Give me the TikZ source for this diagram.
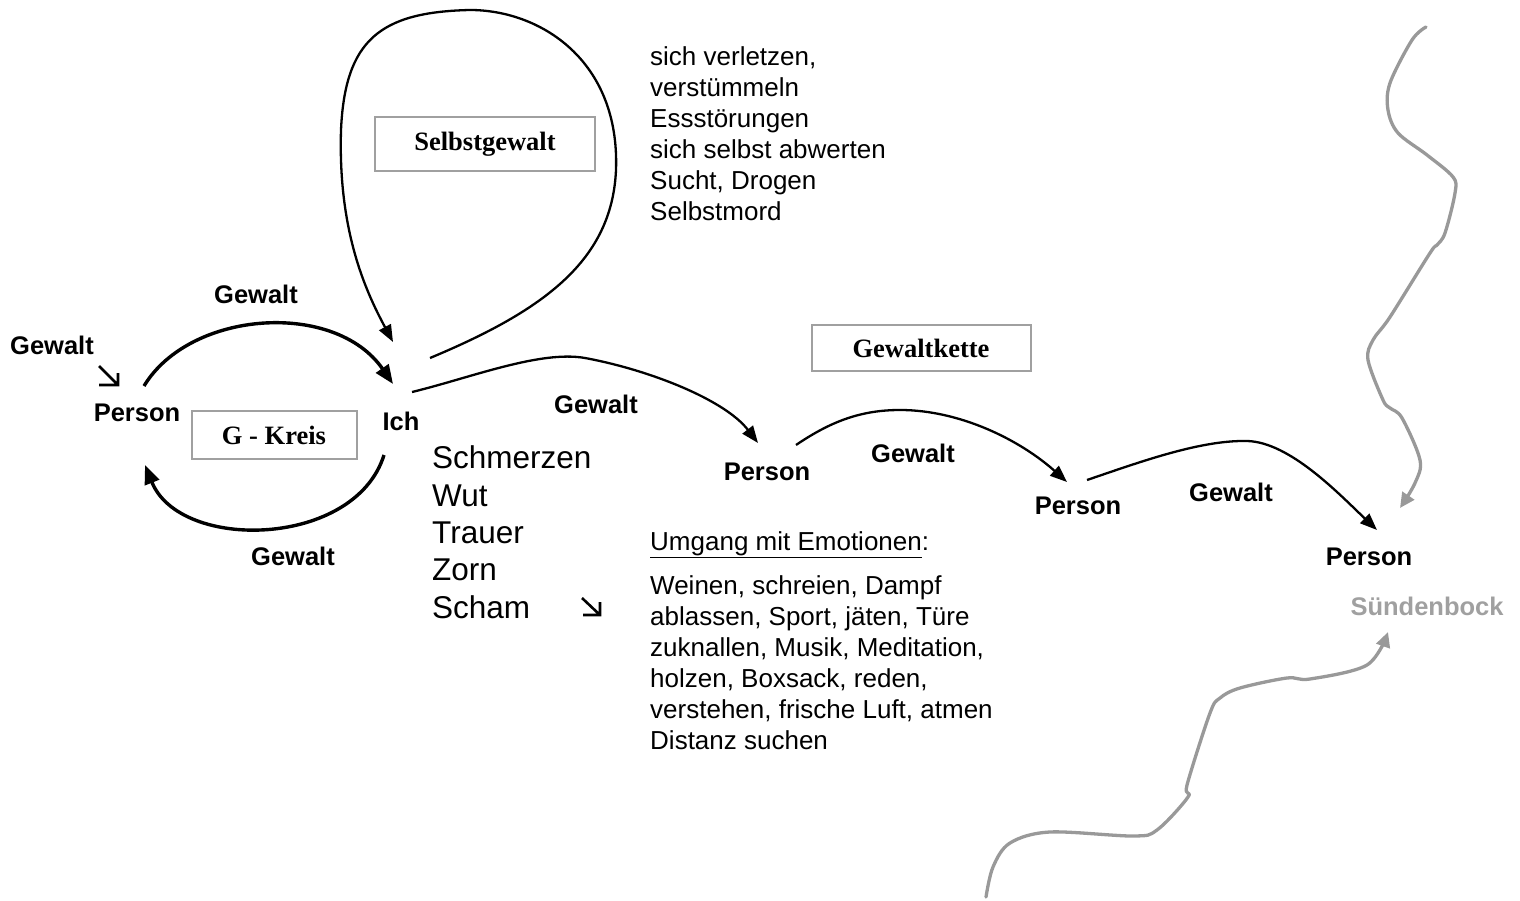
\documentclass[tikz,border=0pt]{standalone}
\usepackage{fontspec}
\setmainfont{Liberation Sans}
\newfontfamily\boxserif{Liberation Serif}
\usetikzlibrary{arrows.meta}
\definecolor{boxgray}{HTML}{A0A0A0}
\definecolor{wiggray}{HTML}{999999}
\tikzset{
  lbl/.style={font=\fontsize{25.5}{30}\selectfont\bfseries, inner sep=0pt, anchor=base},
  titlebox/.style={draw=boxgray, line width=2pt, inner sep=0pt, font=\fontsize{26.5}{30}\boxserif\bfseries},
  thickarrow/.style={line width=3.4pt, -{Triangle[length=19pt,width=15pt]}},
  thinarrow/.style={line width=2.3pt, -{Triangle[length=17pt,width=13pt]}},
  grayarrow/.style={draw=wiggray, line width=3.3pt, line cap=round, line join=round, -{Triangle[length=15pt,width=14pt]}},
  listtext/.style={font=\fontsize{26}{31}\selectfont, align=left, inner sep=0pt, anchor=base west},
  bigtext/.style={font=\fontsize{31.5}{37.3}\selectfont, align=left, inner sep=0pt, anchor=base west},
  cornerarrow/.style={line width=2.6pt}
}
\begin{document}
\begin{tikzpicture}[x=1pt,y=-1pt]
\useasboundingbox (0,0) rectangle (1520,901);

% main nodes
\node[lbl] (p1) at (137,421) {Person};
\node[lbl] (ich) at (401,430) {Ich};
\node[lbl] (p2) at (767,480) {Person};
\node[lbl] (p3) at (1078,514) {Person};
\node[lbl] (p4) at (1369,565) {Person};
\node[lbl, text=boxgray] (sb) at (1427,615) {Sündenbock};

% Gewalt labels
\node[lbl] (gtop) at (256,304) {Gewalt};
\node[lbl] (gleft) at (52,354) {Gewalt};
\node[lbl] (gbot) at (293,565) {Gewalt};
\node[lbl] (g1) at (596,413) {Gewalt};
\node[lbl] (g2) at (913,462) {Gewalt};
\node[lbl] (g3) at (1231,501) {Gewalt};

% boxes
\node[titlebox, minimum width=165pt, minimum height=48pt] (gk) at (274,435) {G - Kreis};
\node[titlebox, minimum width=220pt, minimum height=54pt] (sg) at (485,144) {Selbstgewalt};
\node[titlebox, minimum width=219pt, minimum height=46pt] (gkette) at (921,348) {Gewaltkette};

% text blocks (base anchor = baseline of last line)
\node[listtext] (selbst) at (650,221) {sich verletzen,\\verstümmeln\\Essstörungen\\sich selbst abwerten\\Sucht, Drogen\\Selbstmord};
\node[bigtext] (emo) at (432,618) {Schmerzen\\Wut\\Trauer\\Zorn\\Scham};
\node[listtext] (umg) at (650,550) {\underline{Umgang mit Emotionen}:};
\node[listtext] (wein) at (650,749) {Weinen, schreien, Dampf\\ablassen, Sport, jäten, Türe\\zuknallen, Musik, Meditation,\\holzen, Boxsack, reden,\\verstehen, frische Luft, atmen\\Distanz suchen};

% corner arrows (symbols)
\draw[cornerarrow] (99,366) -- (118,385) (99,385) -- (119.3,385) (118,385) -- (118,373);
\draw[cornerarrow] (582,598) -- (600,615) (583,615) -- (601.3,615) (600,615) -- (600,602);

% G-Kreis arcs
\draw[thickarrow] ([shift={(7,-35)}]p1.base) .. controls (190,310) and (335,300) .. ([shift={(-8,-46)}]ich.base);
\draw[thickarrow] ([shift={(-17,25)}]ich.base) .. controls (355,548) and (180,552) .. ([shift={(8,44)}]p1.base);

% Selbstgewalt loop
\draw[thinarrow] ([shift={(29,-72)}]ich.base) .. controls (545,310) and (612,260) .. (616,170)
  .. controls (620,60) and (540,10) .. (470,10)
  .. controls (380,12) and (345,40) .. (341,130)
  .. controls (338,230) and (365,290) .. ([shift={(-8,-88)}]ich.base);

% chain
\draw[thinarrow] ([shift={(11,-38)}]ich.base) .. controls (470,378) and (540,350) .. (585,358)
  .. controls (650,370) and (725,400) .. ([shift={(-9,-37)}]p2.base);
\draw[thinarrow] ([shift={(29,-35)}]p2.base) .. controls (830,422) and (860,410) .. (900,410)
  .. controls (960,410) and (1020,440) .. ([shift={(-11,-32)}]p3.base);
\draw[thinarrow] ([shift={(9,-34)}]p3.base) .. controls (1140,462) and (1200,440) .. (1247,441)
  .. controls (1290,442) and (1340,495) .. ([shift={(8,-35)}]p4.base);

% grey wiggles
\coordinate (wtop) at (1426,27);
\coordinate (wbot) at (986,897);
\draw[grayarrow] plot[smooth, tension=0.55] coordinates {(wtop) (1412,40) (1390,83) (1388,110) (1398,133) (1427,155) (1453,177) (1455,193) (1445,233) (1437,245) (1430,253) (1390,317) (1373,340) (1368,360) (1383,400) (1390,408) (1402,418) (1420,460) (1415,483) ([shift={(31,-57)}]p4.base)};
\draw[grayarrow] plot[smooth, tension=0.55] coordinates {(wbot) (993,867) (1010,843) (1050,832) (1133,836) (1157,830) (1188,797) (1187,785) (1210,713) (1220,698) (1240,688) (1287,678) (1310,679) (1367,665) ([shift={(-39,17)}]sb.base)};
\end{tikzpicture}
\end{document}
